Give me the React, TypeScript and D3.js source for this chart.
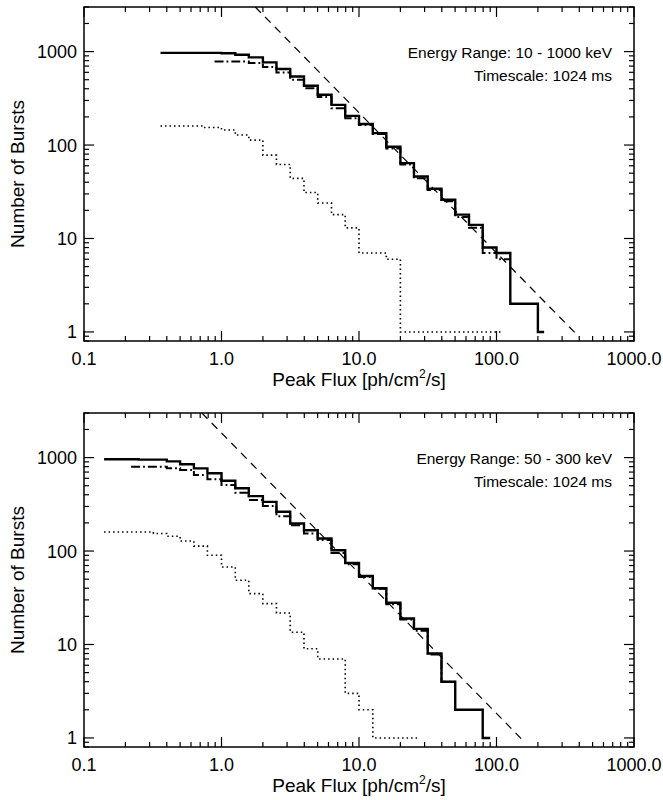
import React from "react";
import * as d3 from "d3";

// ---------- axis definitions ----------
const xDomain: [number, number] = [0.1, 1000];
const yDomain: [number, number] = [0.8, 3000];
const xTickValues = [0.1, 1, 10, 100, 1000];
const xTickLabels = ["0.1", "1.0", "10.0", "100.0", "1000.0"];
const yTickValues = [1, 10, 100, 1000];
const yTickLabels = ["1", "10", "100", "1000"];

// ---------- top panel: 10 - 1000 keV ----------
const topSolidEdges = [0.36, 1.0, 1.26, 1.58, 2.0, 2.51, 3.16, 3.98, 5.01, 6.31, 7.94, 10.0, 12.6, 15.8, 20.0, 25.1, 31.6, 39.8, 50.1, 63.1, 79.4, 100, 126, 200];
const topSolidCounts = [968, 960, 925, 867, 766, 650, 542, 431, 345, 269, 205, 168, 134, 96, 64, 46, 34, 26, 18, 14, 8, 7, 2, 1];
const topSolidEnd = 222;

const topDashDotEdges = [0.89, 1.26, 1.58, 2.0, 2.51, 3.16, 3.98, 5.01, 6.31, 7.94, 10.0, 12.6, 15.8, 20.0, 25.1, 31.6, 39.8, 50.1, 63.1, 79.4, 100];
const topDashDotCounts = [785, 782, 753, 684, 598, 499, 406, 326, 248, 194, 164, 131, 92, 62, 44, 33, 25, 17, 13, 7, 6];
const topDashDotEnd = 126;

const topDottedEdges = [0.36, 0.72, 1.0, 1.26, 1.58, 2.0, 2.51, 3.16, 3.98, 5.01, 6.31, 7.94, 10.0, 15.8, 20.0];
const topDottedCounts = [160, 154, 145, 128, 113, 78, 62, 44, 31, 24, 18, 13, 7, 6, 1];
const topDottedEnd = 110;

const topFitX = [1.76, 400];
const topFitY = [3000, 0.88];

// ---------- bottom panel: 50 - 300 keV ----------
const botSolidEdges = [0.14, 0.25, 0.40, 0.50, 0.63, 0.79, 1.0, 1.26, 1.58, 2.0, 2.51, 3.16, 3.98, 5.01, 6.31, 7.94, 10.0, 12.6, 15.8, 20.0, 25.1, 31.6, 39.8, 50.1, 79.4];
const botSolidCounts = [960, 950, 912, 848, 767, 679, 565, 469, 387, 336, 263, 197, 167, 136, 102, 74.5, 54, 40, 28, 19, 14.7, 8, 4, 2, 1];
const botSolidEnd = 90;

const botDashDotEdges = [0.22, 0.40, 0.50, 0.63, 0.79, 1.0, 1.26, 1.58, 2.0, 2.51, 3.16, 3.98, 5.01, 6.31, 7.94, 10.0, 12.6, 15.8, 20.0, 25.1, 31.6, 39.8];
const botDashDotCounts = [798, 767, 736, 650, 585, 508, 420, 351, 303, 236, 189, 154, 131, 95.5, 72, 52.7, 39.6, 27, 18.5, 14, 7.8, 4];
const botDashDotEnd = 50.1;

const botDottedEdges = [0.14, 0.32, 0.40, 0.50, 0.63, 0.79, 1.0, 1.26, 1.58, 2.0, 2.51, 3.16, 3.98, 5.01, 7.94, 10.0, 12.6];
const botDottedCounts = [160, 154, 144, 128, 113, 90, 67.5, 48.6, 35, 27.4, 21.7, 13.5, 9.0, 7.0, 3, 2, 1];
const botDottedEnd = 27;

const botFitX = [0.72, 157];
const botFitY = [3000, 0.93];

type Series = { edges: number[]; counts: number[]; end: number };

const panels = [
  {
    top: 7,
    energy: "Energy Range: 10 - 1000 keV",
    solid: { edges: topSolidEdges, counts: topSolidCounts, end: topSolidEnd },
    dashDot: { edges: topDashDotEdges, counts: topDashDotCounts, end: topDashDotEnd },
    dotted: { edges: topDottedEdges, counts: topDottedCounts, end: topDottedEnd },
    fitX: topFitX,
    fitY: topFitY,
  },
  {
    top: 413,
    energy: "Energy Range: 50 - 300 keV",
    solid: { edges: botSolidEdges, counts: botSolidCounts, end: botSolidEnd },
    dashDot: { edges: botDashDotEdges, counts: botDashDotCounts, end: botDashDotEnd },
    dotted: { edges: botDottedEdges, counts: botDottedCounts, end: botDottedEnd },
    fitX: botFitX,
    fitY: botFitY,
  },
];

const FONT = "'Liberation Sans', Arial, Helvetica, sans-serif";
const LEFT = 84;
const RIGHT = 634;
const PH = 334;

function Panel({ p, idx }: { p: (typeof panels)[number]; idx: number }) {
  const top = p.top;
  const bottom = top + PH;
  const x = d3.scaleLog().domain(xDomain).range([LEFT, RIGHT]);
  const y = d3.scaleLog().domain(yDomain).range([bottom, top]);

  const step = d3
    .line<[number, number]>()
    .x((d) => x(d[0]))
    .y((d) => y(d[1]))
    .curve(d3.curveStepAfter);

  const pts = (s: Series): [number, number][] => {
    const arr: [number, number][] = s.edges.map((e, i) => [e, s.counts[i]]);
    arr.push([s.end, s.counts[s.counts.length - 1]]);
    return arr;
  };

  const fitLine = d3
    .line<number>()
    .x((_, i) => x(p.fitX[i]))
    .y((d) => y(d));

  const xt = x.ticks();
  const yt = y.ticks();
  const isMajor = (v: number) => Math.abs(Math.log10(v) - Math.round(Math.log10(v))) < 1e-6;
  const clipId = `clip${idx}`;

  return (
    <g>
      <defs>
        <clipPath id={clipId}>
          <rect x={LEFT} y={top} width={RIGHT - LEFT} height={PH} />
        </clipPath>
      </defs>
      <g clipPath={`url(#${clipId})`} fill="none" stroke="#000">
        <path d={fitLine(p.fitY) || ""} strokeWidth={1.2} strokeDasharray="8 6" />
        <path d={step(pts(p.dotted)) || ""} strokeWidth={1.6} strokeDasharray="1.5 3" />
        <path d={step(pts(p.dashDot)) || ""} strokeWidth={2} strokeDasharray="9 3 1.8 3" />
        <path d={step(pts(p.solid)) || ""} strokeWidth={2.4} />
      </g>
      {/* box */}
      <rect x={LEFT} y={top} width={RIGHT - LEFT} height={PH} fill="none" stroke="#000" strokeWidth={1.5} />
      {/* x ticks */}
      {xt.map((t, i) => {
        const len = isMajor(t) ? 10 : 5;
        const xx = x(t);
        return (
          <g key={"xt" + i} stroke="#000" strokeWidth={1.2}>
            <line x1={xx} x2={xx} y1={bottom} y2={bottom - len} />
            <line x1={xx} x2={xx} y1={top} y2={top + len} />
          </g>
        );
      })}
      {yt.map((t, i) => {
        const len = isMajor(t) ? 10 : 5;
        const yy = y(t);
        return (
          <g key={"yt" + i} stroke="#000" strokeWidth={1.2}>
            <line x1={LEFT} x2={LEFT + len} y1={yy} y2={yy} />
            <line x1={RIGHT} x2={RIGHT - len} y1={yy} y2={yy} />
          </g>
        );
      })}
      {/* tick labels */}
      {xTickValues.map((t, i) => (
        <text key={"xl" + i} x={x(t)} y={bottom + 24} textAnchor="middle" fontSize={18} fontFamily={FONT}>
          {xTickLabels[i]}
        </text>
      ))}
      {yTickValues.map((t, i) => (
        <text key={"yl" + i} x={77} y={y(t) + 6.5} textAnchor="end" fontSize={18} fontFamily={FONT}>
          {yTickLabels[i]}
        </text>
      ))}
      {/* axis titles */}
      <text x={(LEFT + RIGHT) / 2} y={bottom + 45} textAnchor="middle" fontSize={19} fontFamily={FONT}>
        Peak Flux [ph/cm
        <tspan fontSize={12} dy={-8}>2</tspan>
        <tspan dy={8}>/s]</tspan>
      </text>
      <text
        transform={`translate(24, ${(top + bottom) / 2}) rotate(-90)`}
        textAnchor="middle"
        fontSize={19}
        fontFamily={FONT}
      >
        Number of Bursts
      </text>
      {/* annotations */}
      <text x={612} y={top + 50.5} textAnchor="end" fontSize={15.5} fontFamily={FONT}>
        {p.energy}
      </text>
      <text x={612} y={top + 73.5} textAnchor="end" fontSize={15.5} fontFamily={FONT}>
        Timescale: 1024 ms
      </text>
    </g>
  );
}

export default function App() {
  return (
    <svg
      width={663}
      height={800}
      viewBox="0 0 663 800"
      style={{ position: "absolute", left: 0, top: 0, background: "#fff" }}
    >
      <rect x={0} y={0} width={663} height={800} fill="#fff" />
      {panels.map((p, i) => (
        <Panel key={i} p={p} idx={i} />
      ))}
    </svg>
  );
}
